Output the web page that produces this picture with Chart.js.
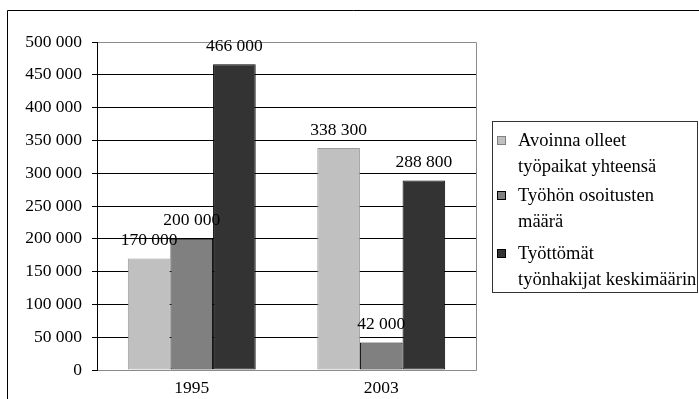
<!DOCTYPE html>
<html>
<head>
<meta charset="utf-8">
<script src="https://cdn.jsdelivr.net/npm/chart.js@4/dist/chart.umd.min.js"></script>
<style>
  html, body { margin: 0; padding: 0; background: #fff; }
  canvas { display: block; }
</style>
</head>
<body>
<canvas id="c" width="699" height="399"></canvas>
<script>
// Vuodet
const years = ['1995', '2003'];

// Sarjojen nimet (legendan rivit)
const seriesNames = [
  ['Avoinna olleet', 'työpaikat yhteensä'],
  ['Työhön osoitusten', 'määrä'],
  ['Työttömät', 'työnhakijat keskimäärin']
];

// Arvot
const openVacancies = [170000, 338300];
const referrals = [200000, 42000];
const unemployedSeekers = [466000, 288800];

// Y-akselin asteikko
const yMin = 0;
const yMax = 500000;
const yStep = 50000;

const fillColors = ['#c0c0c0', '#808080', '#333333'];
const edgeColors = ['#9a9a9a', '#000000', '#000000'];
const FAMILY = '"Liberation Serif", "Times New Roman", serif';
const FONT = '17.5px ' + FAMILY;
const LEGEND_FONT = '18.5px ' + FAMILY;

function fmt(v) {
  return String(v).replace(/\B(?=(\d{3})+(?!\d))/g, ' ');
}

// Kehys, piirtoalueen reunat, arvotekstit ja legenda
const decorations = {
  id: 'decorations',
  beforeDatasetsDraw(chart) {
    const ctx = chart.ctx;
    const a = chart.chartArea;
    ctx.save();
    ctx.lineWidth = 1;
    ctx.strokeStyle = '#8c8c8c';
    ctx.beginPath();
    ctx.moveTo(a.left, a.top + 0.5);
    ctx.lineTo(a.right + 0.5, a.top + 0.5);
    ctx.lineTo(a.right + 0.5, a.bottom + 0.5);
    ctx.lineTo(a.left, a.bottom + 0.5);
    ctx.stroke();
    ctx.strokeStyle = '#000';
    ctx.beginPath();
    ctx.moveTo(a.left + 0.5, a.top);
    ctx.lineTo(a.left + 0.5, a.bottom + 1);
    ctx.stroke();
    ctx.restore();
  },
  afterDatasetsDraw(chart) {
    const ctx = chart.ctx;
    ctx.save();
    ctx.font = FONT;
    ctx.fillStyle = '#000';
    ctx.textAlign = 'center';
    ctx.textBaseline = 'middle';
    chart.data.datasets.forEach((ds, i) => {
      const meta = chart.getDatasetMeta(i);
      meta.data.forEach((el, j) => {
        ctx.fillText(fmt(ds.data[j]), el.x, el.y - 18);
      });
    });
    ctx.restore();
  },
  afterDraw(chart) {
    const ctx = chart.ctx;
    ctx.save();
    // ulkokehys
    ctx.strokeStyle = '#000';
    ctx.lineWidth = 1;
    ctx.beginPath();
    ctx.moveTo(7.5, 399);
    ctx.lineTo(7.5, 10.5);
    ctx.lineTo(699, 10.5);
    ctx.stroke();

    // legenda
    const lx = 492.5, ly = 121.5, lw = 205, lh = 171;
    ctx.strokeStyle = '#333';
    ctx.strokeRect(lx, ly, lw, lh);
    ctx.font = LEGEND_FONT;
    ctx.textAlign = 'left';
    ctx.textBaseline = 'middle';
    const itemTops = [141, 196, 254];
    chart.data.datasets.forEach((ds, i) => {
      const y0 = itemTops[i];
      ctx.fillStyle = ds.backgroundColor;
      ctx.fillRect(497, y0 - 5, 9, 9);
      ctx.strokeStyle = i === 0 ? '#808080' : '#000';
      ctx.strokeRect(497.5, y0 - 4.5, 8, 8);
      ctx.fillStyle = '#000';
      seriesNames[i].forEach((line, k) => {
        ctx.fillText(line, 518, y0 + k * 26.5);
      });
    });
    ctx.restore();
  }
};

new Chart(document.getElementById('c'), {
  type: 'bar',
  data: {
    labels: years,
    datasets: [openVacancies, referrals, unemployedSeekers].map((vals, i) => ({
      label: seriesNames[i].join(' '),
      data: vals,
      backgroundColor: fillColors[i],
      borderColor: edgeColors[i],
      borderWidth: 1,
      borderSkipped: false,
      barPercentage: 1,
      categoryPercentage: 0.675
    }))
  },
  options: {
    responsive: false,
    animation: false,
    events: [],
    layout: { padding: { left: 0, top: 42, right: 223, bottom: 0 } },
    plugins: {
      legend: { display: false },
      tooltip: { enabled: false }
    },
    scales: {
      x: {
        grid: { display: false, drawTicks: false },
        border: { display: false },
        ticks: { color: '#000', font: { family: FAMILY, size: 17.5 }, padding: 8 },
        afterFit(s) { s.height = 29; }
      },
      y: {
        min: yMin,
        max: yMax,
        ticks: {
          stepSize: yStep,
          color: '#000',
          padding: 10,
          font: { family: FAMILY, size: 17.5 },
          callback: v => fmt(v)
        },
        grid: {
          color: c => (c.tick && (c.tick.value === yMin || c.tick.value === yMax)) ? '#8c8c8c' : '#000',
          tickColor: '#000',
          tickLength: 5,
          lineWidth: 1
        },
        border: { display: false },
        afterFit(s) { s.width = 97; }
      }
    }
  },
  plugins: [decorations]
});
</script>
</body>
</html>
